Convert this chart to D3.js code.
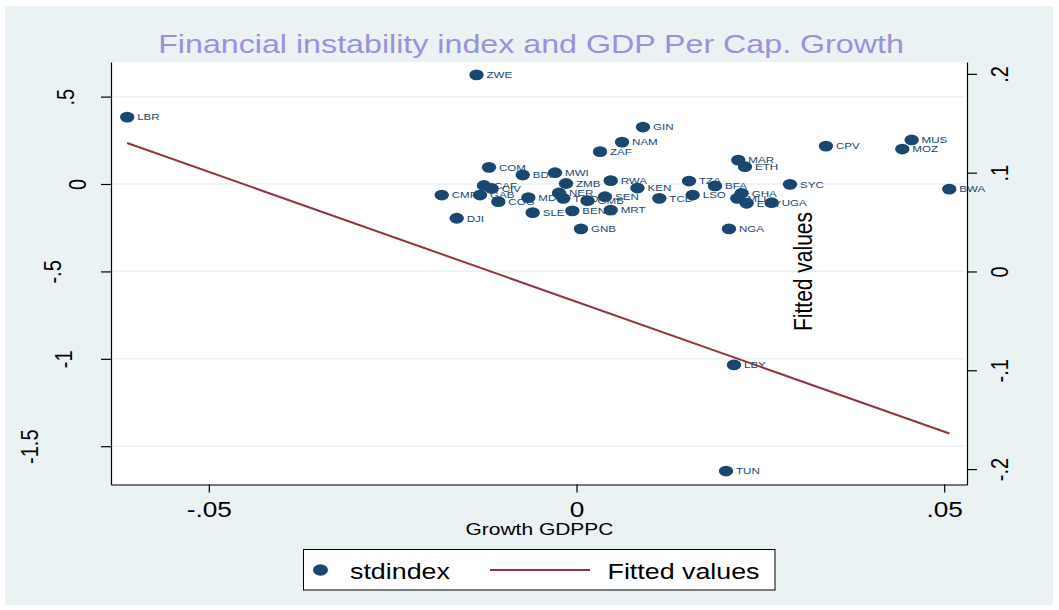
<!DOCTYPE html>
<html>
<head>
<meta charset="utf-8">
<script src="https://cdn.jsdelivr.net/npm/d3@7"></script>
<style>
  body { margin: 0; background: #fff; }
  svg { display: block; font-family: "Liberation Sans", Arial, sans-serif; }
</style>
</head>
<body>
<div id="chart"></div>
<script>
// Landen (labels bij de punten)
const countries = ["LBR", "ZWE", "GIN", "NAM", "ZAF", "COM", "BDI", "MWI", "ZMB", "RWA",
  "KEN", "CAF", "CIV", "CMR", "GAB", "COG", "DJI", "MDG", "SLE", "NER",
  "TGO", "GMB", "SEN", "BEN", "MRT", "GNB", "TCD", "TZA", "LSO", "BFA",
  "MAR", "ETH", "GHA", "MLI", "EGY", "UGA", "SYC", "NGA", "CPV", "MUS",
  "MOZ", "BWA", "LBY", "TUN"];
// Growth GDPPC (x)
const growth = [-0.0611, -0.0136, 0.00904, 0.00619, 0.0032, -0.0119, -0.00731, -0.00292, -0.00143, 0.00465,
  0.00829, -0.01258, -0.01153, -0.01833, -0.01312, -0.01063, -0.01629, -0.00655, -0.00596, -0.00238,
  -0.00179, 0.0015, 0.00387, -0.00057, 0.00465, 0.00061, 0.01126, 0.0153, 0.0158, 0.01883,
  0.022, 0.02291, 0.02246, 0.02186, 0.02314, 0.02654, 0.02903, 0.02073, 0.03392, 0.04557,
  0.0443, 0.05069, 0.02141, 0.02033];
// stdindex (linker as)
const stdindex = [0.383, 0.624, 0.326, 0.24, 0.185, 0.0955, 0.0515, 0.0647, 0.003, 0.019,
  -0.023, -0.0086, -0.0257, -0.063, -0.063, -0.101, -0.196, -0.078, -0.164, -0.0515,
  -0.082, -0.0955, -0.0727, -0.154, -0.149, -0.257, -0.082, 0.017, -0.063, -0.011,
  0.137, 0.099, -0.053, -0.082, -0.11, -0.107, -0.002, -0.257, 0.217, 0.252,
  0.2, -0.029, -1.035, -1.642];
// Fitted values (rechter as), begin- en eindpunt van de lijn
const fitGrowth = [-0.0611, 0.0507];
const fitValues = [0.13, -0.164];
// Tick waarden
const xTicks = [-0.05, 0, 0.05];
const yLeftTicks = [0.5, 0, -0.5, -1, -1.5];
const yRightTicks = [0.2, 0.1, 0, -0.1, -0.2];

const W = 1059, H = 610;
const stretch = 1.22; // het origineel is horizontaal uitgerekt
const navy = "#1a476f", maroon = "#90353b", bg = "#eaf2f3";

// Stata-achtige labels: ".5", "-.05"
function stataFmt(v) {
  return String(+v.toFixed(3)).replace(/^(-?)0\./, "$1.");
}

let svg = d3.select("#chart").append("svg").attr("width", W).attr("height", H);

svg.append("rect").attr("x", 5).attr("y", 6).attr("width", 1048).attr("height", 599)
  .attr("fill", bg);

let x = d3.scaleLinear().domain([-0.0633, 0.0531]).range([111, 967]);
let yL = d3.scaleLinear().domain([-1.719, 0.698]).range([484.5, 62]);
let yR = d3.scaleLinear().domain([-0.2156, 0.212]).range([484.5, 62]);

// Plot gebied
svg.append("rect")
  .attr("x", x.range()[0]).attr("y", yL.range()[1])
  .attr("width", x.range()[1] - x.range()[0])
  .attr("height", yL.range()[0] - yL.range()[1])
  .attr("fill", "#fff");

// Gridlijnen van de linker as
svg.append("g").selectAll("line").data(yLeftTicks).enter().append("line")
  .attr("x1", x.range()[0]).attr("x2", x.range()[1] - 2)
  .attr("y1", d => yL(d)).attr("y2", d => yL(d))
  .style("stroke", bg).style("stroke-width", "1.6px");

// Punten met labels
let pts = svg.append("g");
pts.selectAll("ellipse").data(countries).enter().append("ellipse")
  .attr("cx", (d, i) => x(growth[i]))
  .attr("cy", (d, i) => yL(stdindex[i]))
  .attr("rx", 7.2).attr("ry", 5.4)
  .attr("fill", navy);
pts.selectAll("text").data(countries).enter().append("text")
  .attr("transform", (d, i) => "translate(" + (x(growth[i]) + 10) + "," + yL(stdindex[i]) + ") scale(" + stretch + ",1)")
  .attr("dy", "0.35em")
  .style("font-size", "9.5px")
  .style("fill", navy)
  .text(d => d);

// Fitted lijn
svg.append("path")
  .datum(fitGrowth.map((g, i) => [g, fitValues[i]]))
  .attr("d", d3.line().x(d => x(d[0])).y(d => yR(d[1])))
  .style("fill", "none").style("stroke", maroon).style("stroke-width", "2px");

// X as
let gx = svg.append("g").attr("transform", "translate(0," + yL.range()[0] + ")")
  .call(d3.axisBottom(x).tickValues(xTicks).tickSize(8).tickSizeOuter(0).tickFormat(stataFmt));
gx.selectAll("text")
  .attr("y", 32.5).attr("dy", 0)
  .attr("transform", "scale(" + stretch + ",1)")
  .style("font-size", "21.5px").style("fill", "#000");

// Linker as, labels gedraaid
let gl = svg.append("g").attr("transform", "translate(" + x.range()[0] + ",0)")
  .call(d3.axisLeft(yL).tickValues(yLeftTicks).tickSize(10).tickSizeOuter(0).tickFormat(stataFmt));
gl.selectAll("text")
  .attr("x", 0).attr("dy", 0).attr("text-anchor", "middle")
  .style("font-size", "20px").style("fill", "#000")
  .each(function () {
    let w = this.getComputedTextLength();
    let base = 99.5 - 2.04 * w + 8.7;
    d3.select(this).attr("transform",
      "translate(" + (base - x.range()[0]) + ",0) scale(" + stretch + ",1) rotate(-90)");
  });

// Rechter as
let gr = svg.append("g").attr("transform", "translate(" + x.range()[1] + ",0)")
  .call(d3.axisRight(yR).tickValues(yRightTicks).tickSize(10).tickSizeOuter(0).tickFormat(stataFmt));
gr.selectAll("text")
  .attr("x", 0).attr("dy", 0).attr("text-anchor", "middle")
  .attr("transform", "translate(41,0) scale(" + stretch + ",1) rotate(-90)")
  .style("font-size", "20px").style("fill", "#000");

[gx, gl, gr].forEach(g => {
  g.selectAll("path, line").style("stroke", "#000").style("stroke-width", "1.2px");
});

// Titels
svg.append("text")
  .attr("transform", "translate(531,53.4) scale(" + stretch + ",1)")
  .attr("text-anchor", "middle")
  .style("font-size", "26.4px").style("fill", "#9a91d8")
  .text("Financial instability index and GDP Per Cap. Growth");

svg.append("text")
  .attr("transform", "translate(539.5,535) scale(" + stretch + ",1)")
  .attr("text-anchor", "middle")
  .style("font-size", "17.2px").style("fill", "#000")
  .text("Growth GDPPC");

svg.append("text")
  .attr("transform", "translate(811.5," + yR(0) + ") scale(" + stretch + ",1) rotate(-90)")
  .attr("text-anchor", "middle")
  .style("font-size", "21px").style("fill", "#000")
  .text("Fitted values");

// Legenda
let lg = svg.append("g");
lg.append("rect").attr("x", 303.5).attr("y", 549.5).attr("width", 471.5).attr("height", 40.5)
  .attr("fill", "#fff").style("stroke", "#000").style("stroke-width", "1px");
lg.append("ellipse").attr("cx", 320.5).attr("cy", 570).attr("rx", 7.5).attr("ry", 5.8)
  .attr("fill", navy);
lg.append("text").attr("transform", "translate(350,578.5) scale(" + stretch + ",1)")
  .style("font-size", "22px").text("stdindex");
lg.append("line").attr("x1", 490).attr("x2", 590).attr("y1", 570).attr("y2", 570)
  .style("stroke", maroon).style("stroke-width", "2px");
lg.append("text").attr("transform", "translate(607.5,578.5) scale(" + stretch + ",1)")
  .style("font-size", "22px").text("Fitted values");
</script>
</body>
</html>
